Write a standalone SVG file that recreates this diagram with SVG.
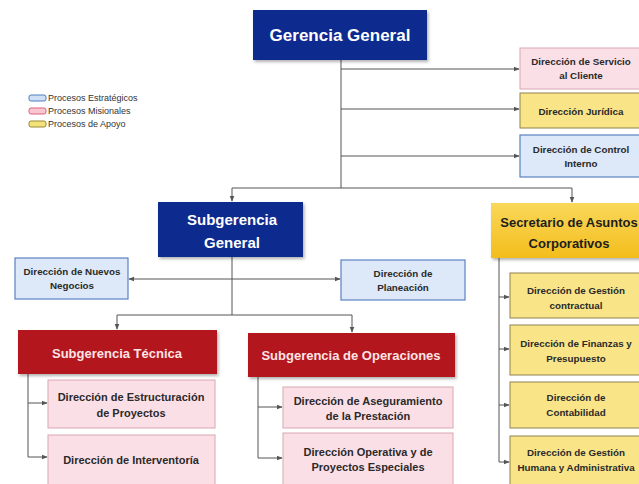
<svg xmlns="http://www.w3.org/2000/svg" width="639" height="484" viewBox="0 0 639 484">
<defs>
<style>
text{font-family:"Liberation Sans",Arial,sans-serif;font-weight:bold;text-anchor:middle;dominant-baseline:central}
.blue{fill:#0b2b8e}
.red{fill:#b3161c}
.wt{fill:#ffffff}
.pt{fill:#fde4e6}
.dk{fill:#2a2a2a;font-size:9.8px}
.dk10{fill:#2a2a2a;font-size:11px}
.pink{fill:#fbdfe6;stroke:#d9a7b2;stroke-width:1}
.yel{fill:#f9e487;stroke:#8f8250;stroke-width:1}
.lb{fill:#dde9f8;stroke:#5a80c2;stroke-width:1.2}
.ln{fill:none;stroke:#555;stroke-width:1}
.arr{fill:none;stroke:#555;stroke-width:1;marker-end:url(#ah)}
.lg{font-weight:normal;text-anchor:start;font-size:9px;fill:#333}
</style>
<marker id="ah" viewBox="0 0 8 8" refX="7" refY="4" markerWidth="6" markerHeight="6" orient="auto-start-reverse" markerUnits="userSpaceOnUse">
<path d="M0,0.8 L8,4 L0,7.2 z" fill="#555"/>
</marker>
<linearGradient id="gold" x1="0" y1="0" x2="0" y2="1">
<stop offset="0" stop-color="#fad85a"/>
<stop offset="1" stop-color="#f3bd1c"/>
</linearGradient>
<filter id="sh" x="-10%" y="-10%" width="130%" height="140%">
<feDropShadow dx="1.5" dy="2" stdDeviation="1.5" flood-color="#000" flood-opacity="0.3"/>
</filter>
</defs>
<rect width="639" height="484" fill="#ffffff"/>

<g id="legend">
<rect x="29" y="95" width="17" height="6" rx="2" fill="#cfe0f5" stroke="#4f7fc0"/>
<rect x="29" y="108" width="17" height="6" rx="2" fill="#f8c8d2" stroke="#e0607a"/>
<rect x="29" y="121" width="17" height="6" rx="2" fill="#f3e27a" stroke="#9a8a30"/>
<text class="lg" x="48" y="98">Procesos Estratégicos</text>
<text class="lg" x="48" y="111">Procesos Misionales</text>
<text class="lg" x="48" y="124">Procesos de Apoyo</text>
</g>

<g id="connectors">
<path class="ln" d="M341,60 V188"/>
<path class="arr" d="M341,69 H519"/>
<path class="arr" d="M341,109 H519"/>
<path class="arr" d="M341,156 H519"/>
<path class="ln" d="M232,188 H572"/>
<path class="arr" d="M232,188 V201"/>
<path class="arr" d="M572,188 V202"/>
<path class="ln" d="M232,257 V315"/>
<path class="arr" d="M232,279 H129"/>
<path class="arr" d="M232,279 H340"/>
<path class="ln" d="M117,315 H352"/>
<path class="arr" d="M117,315 V329"/>
<path class="arr" d="M352,315 V332"/>
<path class="ln" d="M28,374 V457"/>
<path class="arr" d="M28,403 H47"/>
<path class="arr" d="M28,457 H47"/>
<path class="ln" d="M258,377 V458"/>
<path class="arr" d="M258,407 H282"/>
<path class="arr" d="M258,458 H282"/>
<path class="ln" d="M499,258 V462"/>
<path class="arr" d="M499,297 H509"/>
<path class="arr" d="M499,349 H509"/>
<path class="arr" d="M499,405 H509"/>
<path class="arr" d="M499,462 H509"/>
</g>

<g id="gerencia-general">
<rect class="blue" x="253" y="10" width="174" height="50" filter="url(#sh)"/>
<text class="wt" x="340" y="35" font-size="17">Gerencia General</text>
</g>

<g id="dir-servicio-cliente">
<rect class="pink" x="520" y="48" width="120" height="41"/>
<text class="dk" x="581" y="61">Dirección de Servicio</text>
<text class="dk" x="581" y="75">al Cliente</text>
</g>
<g id="dir-juridica">
<rect class="yel" x="520" y="93" width="120" height="35"/>
<text class="dk" x="581" y="111">Dirección Jurídica</text>
</g>
<g id="dir-control-interno">
<rect class="lb" x="520" y="135" width="120" height="42"/>
<text class="dk" x="581" y="149">Dirección de Control</text>
<text class="dk" x="581" y="163">Interno</text>
</g>

<g id="subgerencia-general">
<rect class="blue" x="158" y="202" width="145" height="55" filter="url(#sh)"/>
<text class="wt" x="232" y="219" font-size="15">Subgerencia</text>
<text class="wt" x="232" y="242" font-size="15">General</text>
</g>

<g id="dir-nuevos-negocios">
<rect class="lb" x="15" y="258" width="113" height="41"/>
<text class="dk" x="72" y="271">Dirección de Nuevos</text>
<text class="dk" x="72" y="285">Negocios</text>
</g>
<g id="dir-planeacion">
<rect class="lb" x="341" y="260" width="124" height="40"/>
<text class="dk" x="403" y="273">Dirección de</text>
<text class="dk" x="403" y="287">Planeación</text>
</g>

<g id="subgerencia-tecnica">
<rect class="red" x="18" y="330" width="199" height="44" filter="url(#sh)"/>
<text class="pt" x="117" y="353" font-size="13">Subgerencia Técnica</text>
</g>
<g id="dir-estructuracion">
<rect class="pink" x="48" y="380" width="167" height="48"/>
<text class="dk10" x="131" y="397">Dirección de Estructuración</text>
<text class="dk10" x="131" y="413">de Proyectos</text>
</g>
<g id="dir-interventoria">
<rect class="pink" x="48" y="435" width="167" height="55"/>
<text class="dk10" x="131" y="460">Dirección de Interventoría</text>
</g>

<g id="subgerencia-operaciones">
<rect class="red" x="248" y="333" width="207" height="44" filter="url(#sh)"/>
<text class="pt" x="351" y="355" font-size="13">Subgerencia de Operaciones</text>
</g>
<g id="dir-aseguramiento">
<rect class="pink" x="283" y="387" width="170" height="41"/>
<text class="dk10" x="368" y="401">Dirección de Aseguramiento</text>
<text class="dk10" x="368" y="416">de la Prestación</text>
</g>
<g id="dir-operativa">
<rect class="pink" x="283" y="433" width="170" height="57"/>
<text class="dk10" x="368" y="452">Dirección Operativa y de</text>
<text class="dk10" x="368" y="467">Proyectos Especiales</text>
</g>

<g id="secretario-asuntos-corporativos">
<rect x="491" y="203" width="162" height="55" fill="url(#gold)" filter="url(#sh)"/>
<text x="569" y="222" font-size="13" fill="#1e1e1e">Secretario de Asuntos</text>
<text x="569" y="243" font-size="13" fill="#1e1e1e">Corporativos</text>
</g>
<g id="dir-gestion-contractual">
<rect class="yel" x="510" y="273" width="134" height="45"/>
<text class="dk" x="576" y="290">Dirección de Gestión</text>
<text class="dk" x="576" y="305">contractual</text>
</g>
<g id="dir-finanzas">
<rect class="yel" x="510" y="325" width="134" height="50"/>
<text class="dk" x="576" y="343">Dirección de Finanzas y</text>
<text class="dk" x="576" y="358">Presupuesto</text>
</g>
<g id="dir-contabilidad">
<rect class="yel" x="510" y="382" width="134" height="46"/>
<text class="dk" x="576" y="397">Dirección de</text>
<text class="dk" x="576" y="412">Contabilidad</text>
</g>
<g id="dir-gestion-humana">
<rect class="yel" x="510" y="436" width="134" height="54"/>
<text class="dk" x="576" y="452">Dirección de Gestión</text>
<text class="dk" x="576" y="467">Humana y Administrativa</text>
</g>
</svg>
